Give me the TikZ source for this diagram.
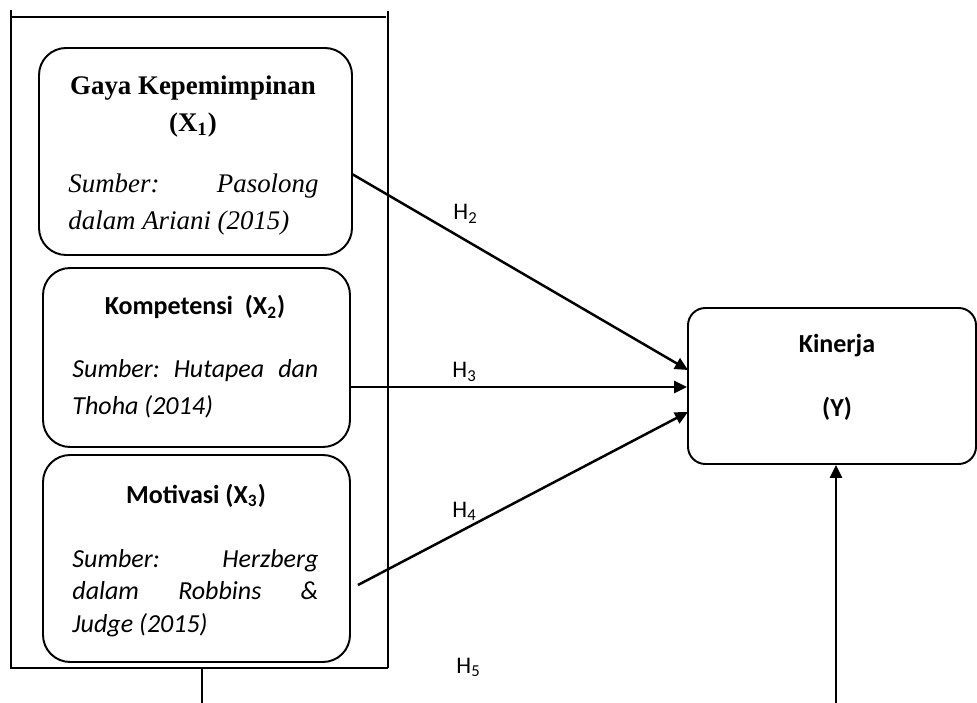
\documentclass[tikz,border=0pt]{standalone}
\usepackage{fontspec}
\setmainfont{Liberation Serif}
\newfontfamily\carl{Carlito}
\usetikzlibrary{arrows.meta}
\def\u{0.4615pt}
\begin{document}
\begin{tikzpicture}[x=\u, y=-\u,
  rbox/.style={draw, line width=0.9pt, rounded corners=#1, inner sep=0pt},
  frame/.style={line width=0.85pt},
  arr/.style={line width=1.15pt, -{Triangle[length=6pt,width=5.6pt]}},
  ttl/.style={anchor=base, inner sep=0pt, font=\fontsize{12.4pt}{14pt}\selectfont\bfseries},
  ctl/.style={anchor=base, inner sep=0pt, font=\fontsize{12pt}{14pt}\selectfont\carl\bfseries},
  tsrc/.style={anchor=base west, inner sep=0pt, font=\fontsize{12.4pt}{14pt}\selectfont\itshape},
  csrc/.style={anchor=base west, inner sep=0pt, font=\fontsize{12pt}{14pt}\selectfont\carl\itshape},
  hlab/.style={anchor=base west, inner sep=0pt, font=\fontsize{11pt}{13pt}\selectfont\carl}
]
\useasboundingbox (0,0) rectangle (977,703);
% outer frame
\draw[frame] (11,10) -- (11,668) -- (388,668);
\draw[frame] (388,11) -- (388,668);
\draw[frame] (11,17) -- (386,17);
% boxes
\node[rbox=12.5pt, minimum width=313*\u, minimum height=207*\u] (x1) at (195.5,151.5) {};
\node[rbox=12.5pt, minimum width=307*\u, minimum height=179*\u] (x2) at (196.5,357.5) {};
\node[rbox=12.5pt, minimum width=307*\u, minimum height=207*\u] (x3) at (196.5,558.5) {};
\node[rbox=8pt, minimum width=288*\u, minimum height=156*\u] (y) at (832,386) {};
% box 1 text
\node[ttl] (t1a) at (193,95) {Gaya Kepemimpinan};
\node[ttl] (t1b) at (193,132) {(X\textsubscript{1})};
\node[tsrc] (t1c) at (68,193) {\hbox to 115.4pt{Sumber:\hfill Pasolong}};
\node[tsrc] (t1d) at (68,230) {\hbox to 115.4pt{dalam Ariani (2015)\hfill}};
% box 2 text
\node[ctl] (t2a) at (195,315) {Kompetensi\ \ (X\textsubscript{2})};
\node[csrc] (t2b) at (72,378) {\hbox to 113.5pt{Sumber:\hfill Hutapea\hfill dan}};
\node[csrc] (t2c) at (72,415) {\hbox to 113.5pt{Thoha (2014)\hfill}};
% box 3 text
\node[ctl] (t3a) at (196,503) {Motivasi (X\textsubscript{3})};
\node[csrc] (t3b) at (72,567) {\hbox to 113.5pt{Sumber:\hfill Herzberg}};
\node[csrc] (t3c) at (72,599) {\hbox to 113.5pt{dalam\hfill Robbins\hfill \&}};
\node[csrc] (t3d) at (72,632) {\hbox to 113.5pt{Judge (2015)\hfill}};
% Y text
\node[ctl] (ty1) at (837,353) {Kinerja};
\node[ctl] (ty2) at (837,417) {(Y)};
% connectors
\coordinate (s2) at (352,174);
\coordinate (e2) at (688,370);
\coordinate (s3) at (350,387);
\coordinate (s4) at (358,585);
\coordinate (e4) at (688,412);
\coordinate (b) at (836,703);
\coordinate (f1) at (202,668);
\coordinate (f2) at (202,703);
\draw[arr] (s2) -- (e2);
\draw[arr] (s3) -- (s3 -| y.west);
\draw[arr] (s4) -- (e4);
\draw[arr] (b) -- (b |- y.south);
\draw[frame] (f1) -- (f2);
% labels
\node[hlab] (h2) at (453,220) {H\textsubscript{2}};
\node[hlab] (h3) at (452,378) {H\textsubscript{3}};
\node[hlab] (h4) at (452,517) {H\textsubscript{4}};
\node[hlab] (h5) at (456,673) {H\textsubscript{5}};
\end{tikzpicture}
\end{document}
